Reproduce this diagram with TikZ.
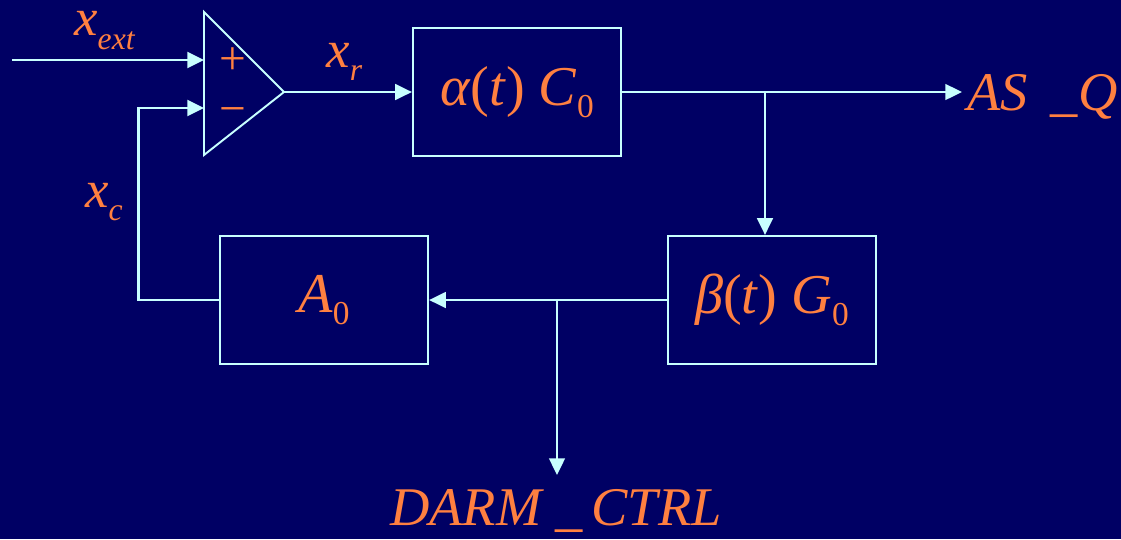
\documentclass[tikz,border=0pt]{standalone}
\usepackage{fontspec}
\setmainfont{Liberation Serif}
\usetikzlibrary{arrows.meta}
\definecolor{bgnavy}{RGB}{0,0,100}
\definecolor{wirecol}{RGB}{200,255,255}
\definecolor{lblcol}{RGB}{255,128,64}
\newcommand{\lowsub}[3][19]{\raisebox{-#2pt}{\fontsize{#1}{#1}\selectfont #3}}
\tikzset{
  blk/.style={draw=wirecol, line width=1.3pt, minimum width=4.16cm, minimum height=2.56cm,
    inner sep=0pt, text=lblcol, font=\fontsize{32}{35}\selectfont},
  sig/.style={draw=wirecol, line width=1.1pt, -{Triangle[length=9.5pt,width=9pt]}},
  fatsig/.style={sig, line width=1.6pt},
  lbl/.style={text=lblcol, inner sep=0pt, font=\fontsize{30}{32}\selectfont\itshape},
  biglbl/.style={text=lblcol, inner sep=0pt, font=\fontsize{31}{34}\selectfont\itshape},
  sgn/.style={text=lblcol, inner sep=0pt, font=\fontsize{27}{27}\selectfont}
}
\begin{document}
\begin{tikzpicture}[x=0.02cm, y=-0.02cm]
  % background
  \useasboundingbox (0,0) rectangle (1121,539);
  \fill[bgnavy] (0,0) rectangle (1121,539);
  % summing amplifier
  \coordinate (amp-p) at (204,60);
  \coordinate (amp-m) at (204,108);
  \coordinate (amp-o) at (284,92);
  \draw[wirecol, line width=1.1pt, line join=miter] (204,12) -- (204,155) -- (amp-o) -- cycle;
  \node[sgn] (plus) at (233,61) {+};
  \node[sgn] (minus) at (233,116) {−};
  % blocks
  \node[blk] (alpha) at (517,92) {\textit{α}(\textit{t})\hspace{8pt}\textit{C}\lowsub{7}{0}};
  \node[blk] (beta) at (772,300) {\textit{β}(\textit{t})\hspace{8pt}\textit{G}\lowsub{7}{0}};
  \node[blk] (a0) at (324,300) {\textit{A}\lowsub{7}{0}};
  % outputs
  \node[biglbl, anchor=base west, inner xsep=3pt] (asq) at (962,110) {AS \,\_Q};
  \node[biglbl, anchor=base] (darm) at (556,525) {DARM \_\,CTRL};
  \coordinate (src) at (12,60);
  \coordinate (tapq) at (765,92);
  \coordinate (tapd) at (557,300);
  \coordinate (darm-in) at (557,475);
  % signal labels
  \node[lbl, anchor=base west] (xext) at (74,35) {x\lowsub[18]{8}{ext}};
  \node[lbl, anchor=base west] (xr) at (326,67) {x\lowsub[18]{7.4}{r}};
  \node[lbl, anchor=base west] (xc) at (85,207) {x\lowsub[18]{7.4}{c}};
  % connections
  \draw[fatsig] (src) -- (amp-p);
  \draw[fatsig] (a0.west) -- ++(-80,0) |- (amp-m);
  \draw[sig] (amp-o) -- (alpha.west);
  \draw[sig] (alpha.east) -- (alpha.east -| asq.west);
  \draw[sig] (tapq) -- (tapq |- beta.north);
  \draw[sig] (beta.west) -- (a0.east);
  \draw[sig] (tapd) -- (darm-in);
\end{tikzpicture}
\end{document}
